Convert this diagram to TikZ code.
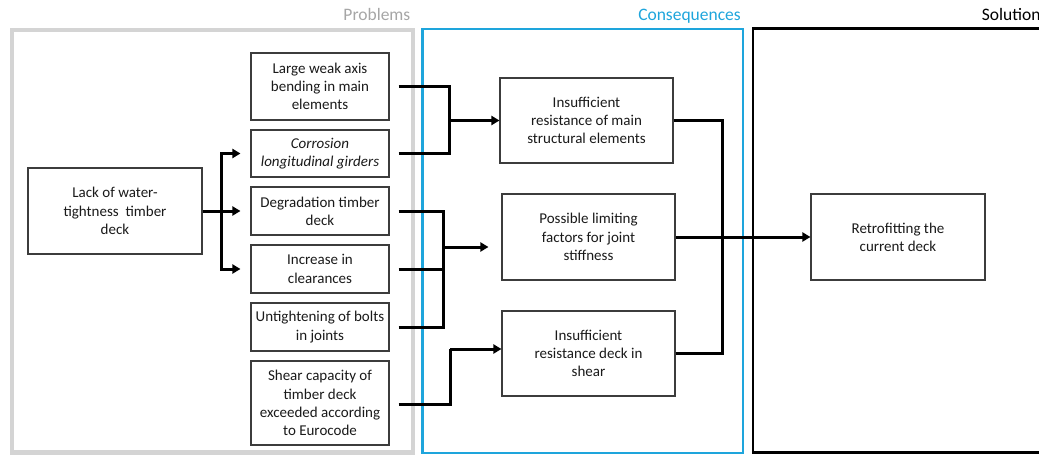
\documentclass[tikz,border=0pt]{standalone}
\usepackage{fontspec}
\setmainfont{Carlito}
\usetikzlibrary{arrows.meta,shadows}
\definecolor{txt}{HTML}{1A1A1A}
\definecolor{frgray}{HTML}{D4D4D4}
\definecolor{hdgray}{HTML}{A6A6A6}
\definecolor{frblue}{HTML}{1EA5DC}
\definecolor{bxborder}{HTML}{3C3C3C}
\tikzset{
  box/.style={draw=bxborder, line width=1.1pt, fill=white, align=center, inner sep=0pt,
    text=txt, font=\fontsize{15}{18.3}\selectfont,
    drop shadow={shadow xshift=1.2pt, shadow yshift=-1.2pt, opacity=0.25, fill=black}},
  conn/.style={line width=3pt, draw=black},
  arr/.style={conn, -{Triangle[length=8pt,width=9pt]}},
  header/.style={font=\fontsize{17.5}{21}\selectfont, inner sep=0pt},
}
\begin{document}
\begin{tikzpicture}[x=1pt,y=-1pt]
\useasboundingbox (0,0) rectangle (1039,455);
% frames
\draw[frgray, line width=4.5pt] (12,30) rectangle (413,452.5);
\draw[frblue, line width=2.6pt] (422.7,29) rectangle (743,453);
\draw[black, line width=2.6pt] (753,28.5) rectangle (1048,452.5);
\node[header, text=hdgray, anchor=base east] (hp) at (410.5,20.5) {Problems};
\node[header, text=frblue, anchor=base east] (hc) at (741,20.5) {Consequences};
\node[header, text=black, anchor=base west] (hs) at (981.7,20.5) {Solution};
% boxes
\node[box, minimum width=174pt, minimum height=86pt] (lack) at (115,211) {Lack of water-\\tightness\ \ timber\\deck};
\node[box, minimum width=138pt, minimum height=67pt] (b1) at (320,86.5) {Large weak axis\\bending in main\\elements};
\node[box, minimum width=138pt, minimum height=47pt] (b2) at (320,153.5) {\itshape Corrosion\\\itshape longitudinal girders};
\node[box, minimum width=138pt, minimum height=48pt] (b3) at (320,211) {Degradation timber\\deck};
\node[box, minimum width=138pt, minimum height=48pt] (b4) at (320,269) {Increase in\\clearances};
\node[box, minimum width=138pt, minimum height=48pt] (b5) at (320,327) {Untightening of bolts\\in joints};
\node[box, minimum width=138pt, minimum height=84pt] (b6) at (320,403) {Shear capacity of\\timber deck\\exceeded according\\to Eurocode};
\node[box, minimum width=173pt, minimum height=85pt] (c1) at (586.5,120.5) {Insufficient\\resistance of main\\structural elements};
\node[box, minimum width=173pt, minimum height=86pt] (c2) at (588.5,237) {Possible limiting\\factors for joint\\stiffness};
\node[box, minimum width=173pt, minimum height=85pt] (c3) at (588.5,353.5) {Insufficient\\resistance deck in\\shear};
\node[box, minimum width=174pt, minimum height=86pt] (r) at (898,237) {Retrofitting the\\current deck};
% connectors: lack -> problems
\coordinate (t1) at (221,211);
\draw[conn] (lack.east) -- (t1);
\draw[arr] (t1) |- ([xshift=-10pt]b2.west);
\draw[arr] (t1) -- ([xshift=-10pt]b3.west);
\draw[arr] (t1) |- ([xshift=-10pt]b4.west);
% group 1
\coordinate (j1) at (449,120.5);
\draw[conn] ([xshift=9pt]b1.east) -| (j1);
\draw[conn] ([xshift=9pt]b2.east) -| (j1);
\draw[arr] (j1) -- (c1.west);
% group 2
\coordinate (j2) at (443,247);
\draw[conn] ([xshift=9pt]b3.east) -| (j2);
\draw[conn] ([xshift=9pt]b4.east) -| (j2);
\draw[conn] ([xshift=9pt]b5.east) -| (j2);
\draw[arr] (j2) -- ([xshift=-13pt]c2.west |- j2);
% group 3
\coordinate (j3) at (450,349);
\draw[conn] ([xshift=9pt,yshift=-1.3pt]b6.east) -| (j3);
\draw[arr] (j3) -- (c3.west |- j3);
% consequences -> solution
\coordinate (j4) at (722,237);
\draw[conn] (c1.east) -| (j4);
\draw[conn] (c3.east) -| (j4);
\draw[arr] (c2.east) -- (r.west);
\end{tikzpicture}
\end{document}
